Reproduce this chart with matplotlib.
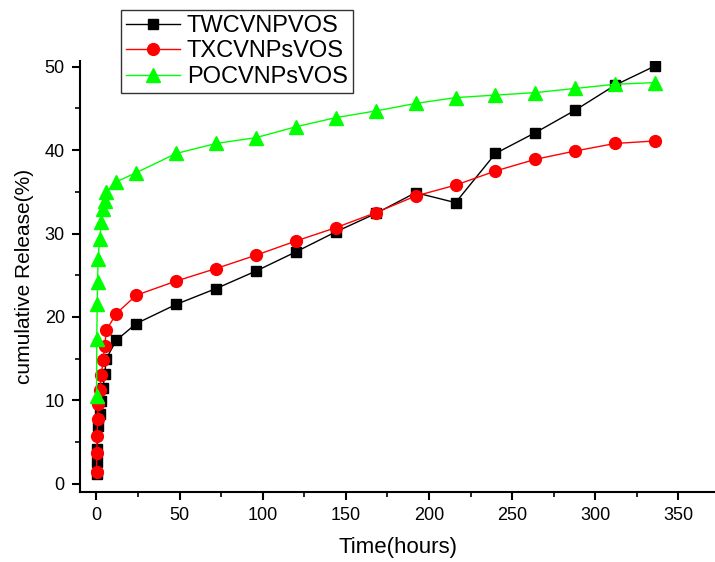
import numpy as np
import matplotlib
matplotlib.use('Agg')
import matplotlib.pyplot as plt
from matplotlib.ticker import MultipleLocator

plt.rcParams['font.family'] = ['Liberation Sans', 'DejaVu Sans']

# sampling times (hours)
t_late = [12, 24, 48, 72, 96, 120, 144, 168, 192, 216, 240, 264, 288, 312, 336]
t_black = [0.1, 0.25, 0.5, 1, 2, 3, 4, 5, 6] + t_late
t_rg = [0.1, 0.25, 0.5, 0.75, 1, 2, 3, 4, 5, 6] + t_late

twc = [1.2, 2.6, 4.1, 6.9, 8.4, 9.9, 11.5, 13.2, 15.0,
       17.2, 19.2, 21.5, 23.4, 25.5, 27.8, 30.2, 32.4, 34.9, 33.7, 39.6, 42.1, 44.8, 47.8, 50.1]
txc = [1.4, 3.7, 5.7, 7.8, 9.5, 11.2, 13.0, 14.8, 16.5, 18.4,
       20.4, 22.6, 24.3, 25.8, 27.4, 29.1, 30.7, 32.5, 34.5, 35.8, 37.5, 38.9, 39.9, 40.8, 41.1]
poc = [10.5, 17.4, 21.5, 24.2, 27.0, 29.4, 31.4, 32.9, 33.9, 35.0,
       36.2, 37.3, 39.6, 40.8, 41.5, 42.8, 43.9, 44.7, 45.6, 46.3, 46.6, 46.9, 47.4, 47.9, 48.1]

fig = plt.figure(figsize=(7.15, 5.62), dpi=100)
ax = fig.add_axes([0.112, 0.1246, 0.888, 0.767])

ax.plot(t_black, twc, color='black', lw=1, marker='s', ms=7.5, label='TWCVNPVOS')
ax.plot(t_rg, txc, color='#ff0000', lw=1, marker='o', ms=8.5, label='TXCVNPsVOS')
ax.plot(t_rg, poc, color='#00ff00', lw=1, marker='^', ms=9.5, label='POCVNPsVOS')

ax.set_xlim(-9.8, 372)
ax.set_ylim(-1, 50.7)
ax.spines['top'].set_visible(False)
ax.spines['right'].set_visible(False)
for s in ['left', 'bottom']:
    ax.spines[s].set_linewidth(1.5)

ax.xaxis.set_major_locator(MultipleLocator(50))
ax.xaxis.set_minor_locator(MultipleLocator(25))
ax.yaxis.set_major_locator(MultipleLocator(10))
ax.yaxis.set_minor_locator(MultipleLocator(5))
ax.tick_params(which='major', length=6, width=1.5, labelsize=13, pad=5)
ax.tick_params(which='minor', length=3.5, width=1.2)

ax.set_xlabel('Time(hours)', fontsize=16, labelpad=9)
ax.set_ylabel('cumulative Release(%)', fontsize=15, labelpad=8)

leg = ax.legend(loc='upper left', bbox_to_anchor=(0.169, 0.982), bbox_transform=fig.transFigure,
                fontsize=17, frameon=True, fancybox=False, borderaxespad=0,
                handlelength=2.3, handletextpad=0.3, labelspacing=0.15, borderpad=0.2)
leg.get_frame().set_edgecolor('black')
leg.get_frame().set_linewidth(1.0)

fig.savefig('out.png', dpi=100)
